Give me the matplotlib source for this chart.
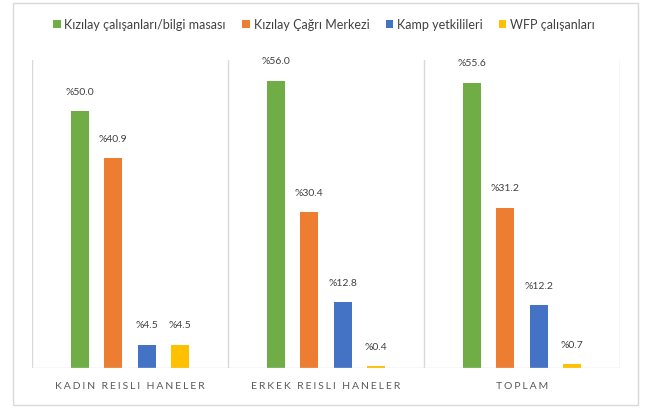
import matplotlib
matplotlib.use("Agg")
import matplotlib.pyplot as plt
import numpy as np
from matplotlib.patches import Rectangle

categories = ["KADIN REISLI HANELER", "ERKEK REISLI HANELER", "TOPLAM"]
series_names = ["Kızılay çalışanları/bilgi masası", "Kızılay Çağrı Merkezi",
                "Kamp yetkilileri", "WFP çalışanları"]
values = [
    [50.0, 56.0, 55.6],
    [40.9, 30.4, 31.2],
    [4.5, 12.8, 12.2],
    [4.5, 0.4, 0.7],
]
colors = ["#70AD47", "#ED7D31", "#4472C4", "#FFC000"]

plt.rcParams['font.family'] = ['Lato', 'DejaVu Sans']

fig = plt.figure(figsize=(6.48, 4.10), dpi=100)
# outer frame
fig.patches.append(Rectangle((13/648, 4/410), (638-13)/648, (406-4)/410,
                             transform=fig.transFigure, fill=False,
                             edgecolor="#D9D9D9", linewidth=1.0))
ax = fig.add_axes([32/648, 41/410, (620-32)/648, (369-61)/410])

x = np.arange(len(categories))
spacing = 0.171
width = 0.092
for i, (name, vals, c) in enumerate(zip(series_names, values, colors)):
    pos = x + (i - 1.5) * spacing
    ax.bar(pos, vals, width=width, color=c, label=name, zorder=3)
    for xi, v in zip(pos, vals):
        ax.text(xi, v + 3.0, f"%{v:.1f}", ha="center", va="bottom",
                fontsize=7.5, color="#404040")

ax.set_xlim(-0.5, 2.5)
ax.set_ylim(0, 60)
for s in ax.spines.values():
    s.set_visible(False)
ax.set_yticks([])
ax.set_xticks([])
for b in [-0.5, 0.5, 1.5, 2.5]:
    ax.axvline(b, color="#D9D9D9", linewidth=1.0, zorder=1)
ax.axhline(0, color="#D9D9D9", linewidth=1.0, zorder=4)

for xi, cat in zip(x, categories):
    spaced = "\u2009\u200a".join(cat)
    ax.text(xi, -3.5, spaced, ha="center", va="center", fontsize=7.5,
            color="#595959", transform=ax.transData)

fig.legend(loc="center", bbox_to_anchor=(0.5, 1 - 25/410), ncol=4,
           frameon=False, fontsize=9, handlelength=0.6, handleheight=0.6,
           handletextpad=0.3, columnspacing=1.3, labelcolor="#404040")

fig.savefig("out.png", dpi=100)
